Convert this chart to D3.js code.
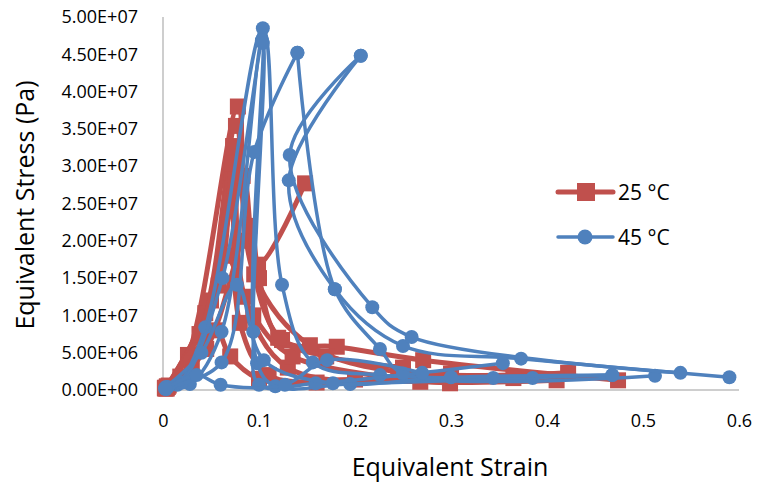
<!DOCTYPE html>
<html>
<head>
    <title>Equivalent Stress vs Equivalent Strain</title>
    <style>
        body { margin: 0; background: #fff; font-family: "Open Sans", Arial, sans-serif; }
        svg { display: block; }
        .axis path, .axis line { stroke: #BEBEBE; stroke-width: 1.5px; }
        .axis text { font-family: "Open Sans", Arial, sans-serif; font-size: 18px; fill: #000; }
        .title { font-size: 25px; fill: #000; }
        .legend text { font-size: 21px; fill: #000; }
    </style>
</head>
<body>
    <svg id="chart" width="758" height="483"></svg>
    <script src="https://d3js.org/d3.v7.min.js"></script>
    <script>
        // Tick labels
        const xTicks = [0, 0.1, 0.2, 0.3, 0.4, 0.5, 0.6];
        const yTicks = [0, 5e6, 1e7, 1.5e7, 2e7, 2.5e7, 3e7, 3.5e7, 4e7, 4.5e7, 5e7];

        // 25 °C curves: [strain, stress (Pa)]
        const red1 = [[0.002, 0.3e6], [0.026, 4.7e6], [0.078, 38.0e6], [0.088, 20.0e6], [0.124, 6.7e6], [0.181, 5.8e6], [0.271, 4.0e6], [0.474, 1.3e6]];
        const red2 = [[0.004, 0.5e6], [0.044, 10.3e6], [0.076, 35.4e6], [0.095, 15.5e6], [0.153, 6.0e6], [0.245, 2.4e6], [0.422, 2.3e6]];
        const red3 = [[0.003, 0.2e6], [0.050, 12.0e6], [0.073, 32.7e6], [0.085, 12.5e6], [0.130, 3.0e6], [0.268, 1.1e6], [0.410, 1.3e6]];
        const red4 = [[0.005, 0.4e6], [0.058, 14.0e6], [0.072, 30.4e6], [0.080, 9.0e6], [0.110, 2.0e6], [0.200, 1.4e6], [0.365, 1.6e6]];
        const red5 = [[0.003, 0.3e6], [0.038, 7.5e6], [0.083, 28.7e6], [0.099, 16.8e6], [0.148, 27.7e6]];
        const red6 = [[0.006, 0.6e6], [0.030, 3.5e6], [0.065, 18.0e6], [0.094, 10.0e6], [0.135, 4.5e6], [0.299, 0.9e6]];
        const red7 = [[0.002, 0.2e6], [0.018, 1.8e6], [0.055, 8.0e6], [0.070, 4.5e6], [0.100, 1.5e6], [0.160, 1.0e6], [0.300, 2.2e6]];
        const red8 = [[0.004, 0.2e6], [0.045, 5.5e6], [0.090, 22.0e6], [0.100, 15.0e6], [0.120, 7.0e6], [0.170, 4.5e6], [0.250, 3.0e6]];

        // 45 °C curves: [strain, stress (Pa)]
        const blue1 = [[0.002, 0.2e6], [0.015, 0.7e6], [0.044, 8.4e6], [0.104, 48.5e6], [0.124, 14.1e6], [0.156, 3.7e6], [0.226, 2.0e6], [0.344, 1.6e6], [0.468, 2.0e6]];
        const blue2 = [[0.004, 0.3e6], [0.028, 0.8e6], [0.061, 7.8e6], [0.103, 46.9e6], [0.098, 3.6e6], [0.117, 0.5e6], [0.195, 0.8e6], [0.385, 1.6e6]];
        const blue3 = [[0.003, 0.1e6], [0.020, 1.0e6], [0.062, 15.0e6], [0.104, 46.5e6], [0.094, 7.8e6], [0.100, 0.7e6], [0.159, 0.9e6], [0.354, 3.6e6]];
        const blue4 = [[0.005, 0.4e6], [0.061, 3.7e6], [0.095, 31.9e6], [0.140, 45.2e6]];
        const blue4b = [[0.140, 45.2e6], [0.179, 13.5e6], [0.226, 5.5e6], [0.250, 2.2e6], [0.5125, 1.9e6]];
        const blue5 = [[0.206, 44.8e6], [0.131, 28.1e6], [0.179, 13.5e6], [0.250, 5.9e6], [0.373, 4.2e6], [0.590, 1.7e6]];
        const blue6 = [[0.206, 44.8e6], [0.132, 31.5e6], [0.218, 11.1e6], [0.259, 7.1e6], [0.539, 2.3e6]];
        const blue7 = [[0.003, 0.4e6], [0.040, 5.0e6], [0.077, 14.1e6], [0.105, 4.0e6], [0.177, 0.9e6], [0.300, 1.7e6], [0.468, 2.0e6]];
        const blue8 = [[0.003, 0.2e6], [0.035, 2.0e6], [0.060, 0.7e6], [0.127, 0.7e6], [0.171, 4.0e6], [0.270, 2.3e6]];

        const series = [
            {name: "25 \u00B0C", color: "#C0504D", marker: "square", width: 5, curves: [red1, red2, red3, red4, red5, red6, red7, red8]},
            {name: "45 \u00B0C", color: "#4F81BD", marker: "circle", width: 3.5, curves: [blue1, blue2, blue3, blue4, blue4b, blue5, blue6, blue7, blue8]}
        ];

        const svg = d3.select("#chart");
        const x = d3.scaleLinear().domain([0, 0.6]).range([163, 739]);
        const y = d3.scaleLinear().domain([0, 5e7]).range([390, 17]);

        // Axes
        svg.append("g")
            .attr("class", "axis")
            .attr("transform", "translate(0,390)")
            .call(d3.axisBottom(x).tickValues(xTicks).tickSize(0).tickPadding(24).tickFormat(d => d === 0 ? "0" : d3.format(".1f")(d)))
            .call(g => g.select(".domain").attr("d", "M163,0H739"));

        svg.append("g")
            .attr("class", "axis")
            .attr("transform", "translate(163,0)")
            .call(d3.axisLeft(y).tickValues(yTicks).tickSize(0).tickPadding(25).tickFormat(d => d3.format(".2e")(d).replace("e", "E").replace(/E([+-])(\d)$/, "E$10$2").toUpperCase()))
            .call(g => g.select(".domain").attr("d", "M0,17V390"));

        // Titles
        svg.append("text").attr("class", "title")
            .attr("x", 450).attr("y", 476).attr("text-anchor", "middle")
            .text("Equivalent Strain");
        svg.append("text").attr("class", "title")
            .attr("transform", "translate(34,205) rotate(-90)").attr("text-anchor", "middle")
            .text("Equivalent Stress (Pa)");

        const line = d3.line().x(d => x(d[0])).y(d => y(d[1])).curve(d3.curveCatmullRom.alpha(0.5));

        function drawMarkers(g, pts, s) {
            if (s.marker === "square") {
                g.selectAll("rect").data(pts).enter().append("rect")
                    .attr("x", d => x(d[0]) - 8).attr("y", d => y(d[1]) - 8)
                    .attr("width", 16).attr("height", 16)
                    .attr("fill", s.color);
            } else {
                g.selectAll("circle").data(pts).enter().append("circle")
                    .attr("cx", d => x(d[0])).attr("cy", d => y(d[1]))
                    .attr("r", 7).attr("fill", s.color);
            }
        }

        series.forEach(s => {
            const g = svg.append("g");
            s.curves.forEach(c => {
                const cg = g.append("g");
                cg.append("path").datum(c)
                    .attr("d", line)
                    .attr("fill", "none")
                    .attr("stroke", s.color)
                    .attr("stroke-width", s.width)
                    .attr("stroke-linecap", "round")
                    .attr("stroke-linejoin", "round");
                drawMarkers(cg, c, s);
            });
        });

        // Legend
        const legend = svg.append("g").attr("class", "legend");
        series.forEach((s, i) => {
            const ly = 192 + i * 45;
            const lg = legend.append("g");
            lg.append("line").attr("x1", 558).attr("x2", 613).attr("y1", ly).attr("y2", ly)
                .attr("stroke", s.color).attr("stroke-width", s.width).attr("stroke-linecap", "round");
            if (s.marker === "square") {
                lg.append("rect").attr("x", 577).attr("y", ly - 9).attr("width", 18).attr("height", 18).attr("fill", s.color);
            } else {
                lg.append("circle").attr("cx", 585).attr("cy", ly).attr("r", 7.5).attr("fill", s.color);
            }
            lg.append("text").attr("x", 618).attr("y", ly).attr("dy", "0.36em").text(s.name);
        });
    </script>
</body>
</html>
